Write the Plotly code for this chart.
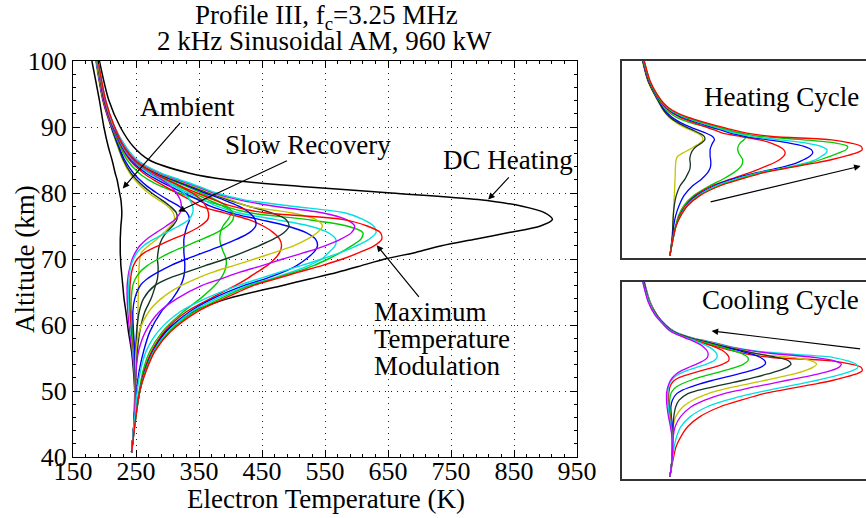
import plotly.graph_objects as go

# ---------------- data ----------------
ALT = [40.7, 44, 47, 50, 53, 56, 59, 62, 64, 66, 67, 68, 69, 70, 71, 72, 73, 74, 75, 76,
       77, 78, 79, 80, 81, 82, 83, 85, 87, 90, 94, 100]

AMBIENT = [243, 246, 248, 248, 246, 243, 238, 234, 231, 229, 228, 227, 226, 225.5, 225, 225, 225, 225.5, 226, 227,
           227.5, 227, 226, 224, 222, 220, 217, 212, 206, 199, 192, 180]
DC_HEATING = [243.5, 246, 250, 256, 263, 276, 297, 340, 396, 483, 527, 570, 608, 645, 694, 735, 788, 842, 892, 911,
              899, 863, 793, 655, 512, 395, 335, 271, 246, 225, 207, 192]

# heating cycle
H1_YELLOW = [243, 246, 248, 249, 250, 251, 252, 253, 253.5, 254, 254, 254.5, 255, 256, 259, 270, 283, 294, 305, 311,
             309, 300, 285, 270, 258, 248, 240, 229, 221, 210, 197, 186]
H2_BLACK = [243, 246, 248, 249, 250, 252, 256, 264, 274, 281, 284, 285, 285, 284, 285, 287, 291, 298, 308, 315,
            314, 304, 290, 275, 262, 251, 242, 230, 222, 211, 198, 187]
H3_BLUE = [243, 246, 249, 251, 255, 262, 272, 290, 308, 321, 325, 327, 327.5, 327, 326, 326, 326, 328, 331, 335,
           331, 318, 300, 283, 268, 256, 246, 232, 223, 211, 198, 187]
H4_GREEN = [243, 246.5, 250, 255, 261, 272, 292, 325, 352, 375, 384, 390, 393, 393, 389, 385, 383, 384, 388, 396,
            401, 388, 352, 318, 290, 270, 255, 236, 225, 212, 199, 188]
H5_RED = [243, 246.5, 250, 256, 263, 275, 295, 330, 368, 408, 426, 442, 458, 470, 478, 481, 478, 468, 452, 428,
          390, 352, 335, 315, 296, 278, 262, 240, 227, 213, 199, 188]
H6_BLUE = [243, 247, 251, 256, 264, 277, 298, 335, 372, 422, 455, 483, 505, 520, 532, 538, 535, 520, 490, 445,
           400, 368, 348, 326, 304, 284, 266, 242, 228, 214, 200, 189]
H7_CYAN = [243, 247, 251, 256, 265, 278, 301, 338, 378, 428, 464, 496, 524, 545, 556, 566, 567, 555, 525, 470,
           412, 378, 356, 333, 310, 289, 270, 244, 229, 215, 201, 189]
H8_GREEN = [243, 247, 251, 256, 265, 279, 303, 343, 384, 432, 467, 502, 532, 555, 575, 592, 607, 610, 585, 520,
            430, 390, 364, 340, 316, 294, 274, 246, 230, 215, 201, 190]
MAX_RED = [243, 247, 251, 256, 266, 280, 305, 347, 390, 437, 472, 508, 545, 578, 605, 628, 640, 638, 617, 577,
           454, 402, 373, 347, 322, 299, 278, 248, 231, 216, 202, 190]

# cooling cycle
C2_CYAN = [243, 246, 249, 252, 257, 266, 285, 320, 360, 413, 445, 478, 512, 545, 575, 600, 620, 631, 627, 610,
           581, 497, 420, 378, 350, 320, 290, 252, 234, 216, 202, 190]
C3_MAGENTA = [243, 246, 248, 249, 250, 254, 265, 287, 315, 355, 385, 415, 450, 483, 518, 550, 575, 592, 597, 583,
              545, 470, 412, 374, 346, 317, 288, 251, 233.5, 216, 201, 190]
C4_YELLOW = [243, 246, 248, 248.5, 249, 250, 255, 270, 290, 322, 345, 372, 405, 438, 470, 500, 522, 538, 546, 535,
             497, 428, 400, 370, 342, 314, 286, 250, 233, 215, 201, 189]
C5_BLACK = [243, 246, 247.5, 248, 249, 249.5, 251, 255, 262, 280, 300, 330, 360, 392, 420, 445, 468, 485, 493, 488,
            465, 428, 395, 366, 338, 311, 284, 249, 232.5, 215, 200, 189]
C6_BLUE = [243, 246, 247.5, 248, 248, 248, 246, 245, 248, 257, 268, 285, 305, 330, 358, 385, 410, 430, 440, 439,
           430, 413, 388, 360, 334, 308, 282, 248, 232, 214, 200, 189]
C7_GREEN = [243, 246, 248, 248.5, 248, 246.5, 244.5, 242.5, 242.5, 245, 249, 256, 268, 285, 305, 330, 355, 378, 395, 404,
            404, 394, 376, 354, 330, 305, 280, 247, 231.5, 214, 200, 188]
C8_RED = [243, 246, 248, 248.5, 248, 246, 243, 241, 240, 240.5, 241.5, 243, 246, 252, 264, 285, 308, 333, 352, 364,
          365, 361, 353, 339, 321, 300, 278, 246, 231, 213, 199, 188]
C9_CYAN = [243, 246, 248, 248, 247.5, 245, 242, 239.5, 238.5, 238.5, 239, 240, 242, 246, 252, 262, 278, 298, 318, 334,
           340, 340, 335, 326, 313, 296, 276, 245, 230.5, 213, 199, 187]
C10_MAGENTA = [243, 246, 248, 248, 247, 244, 240, 237, 236, 236, 237, 238.5, 241, 244, 249, 256, 267, 282, 298, 312,
               320, 322, 320, 314, 305, 291, 274, 244, 230, 212, 198, 187]

X_RANGE = [150, 950]
Y_RANGE = [40, 100]

YEL, BLK, BLU, GRN, RED, CYN, MAG = '#c4c400', '#153526', '#0000ff', '#00cc00', '#ff0000', '#00e0e0', '#c000ff'

HEATING = [(H1_YELLOW, YEL), (H2_BLACK, BLK), (H3_BLUE, BLU), (H4_GREEN, GRN), (H5_RED, RED),
           (H6_BLUE, BLU), (H7_CYAN, CYN), (H8_GREEN, GRN), (MAX_RED, RED)]
COOLING = [(MAX_RED, RED), (C2_CYAN, CYN), (C3_MAGENTA, MAG), (C4_YELLOW, YEL), (C5_BLACK, BLK),
           (C6_BLUE, BLU), (C7_GREEN, GRN), (C8_RED, RED), (C9_CYAN, CYN), (C10_MAGENTA, MAG)]

FONT = 'Liberation Serif, Times New Roman, serif'
W, H = 866, 518


def line(t, color, xa, ya, width=1.4):
    return go.Scatter(x=t, y=ALT, mode='lines', xaxis=xa, yaxis=ya, hoverinfo='skip',
                      line=dict(color=color, width=width, shape='spline', smoothing=0.8))


fig = go.Figure()
# main panel
fig.add_trace(line(AMBIENT, 'black', 'x', 'y', 1.5))
fig.add_trace(line(DC_HEATING, 'black', 'x', 'y', 1.5))
for t, c in HEATING[:-1]:
    fig.add_trace(line(t, c, 'x', 'y'))
for t, c in COOLING[1:][::-1]:
    fig.add_trace(line(t, c, 'x', 'y'))
fig.add_trace(line(MAX_RED, RED, 'x', 'y'))
# insets
for t, c in HEATING:
    fig.add_trace(line(t, c, 'x2', 'y2', 1.3))
for t, c in COOLING:
    fig.add_trace(line(t, c, 'x3', 'y3', 1.3))


def px_x(p):
    return p / W


def px_y(p):
    return 1 - p / H


main_x = dict(domain=[px_x(73), px_x(577)], range=X_RANGE, tickmode='linear', tick0=150, dtick=100,
              ticks='inside', ticklen=7, tickcolor='black', showline=True, linecolor='black', linewidth=1,
              mirror='allticks', showgrid=True, gridcolor='#222', griddash='1px,5px', gridwidth=1,
              zeroline=False, automargin=False, ticklabelstandoff=-9,
              tickfont=dict(family=FONT, size=26, color='black'),
              minor=dict(tick0=150, dtick=20, ticks='inside', ticklen=3, tickcolor='black', showgrid=False))
main_y = dict(domain=[px_y(457), px_y(61)], range=Y_RANGE, tickmode='linear', tick0=40, dtick=10,
              ticks='inside', ticklen=7, tickcolor='black', showline=True, linecolor='black', linewidth=1,
              mirror='allticks', showgrid=True, gridcolor='#222', griddash='1px,5px', gridwidth=1,
              zeroline=False, automargin=False, tickfont=dict(family=FONT, size=26, color='black'),
              minor=dict(tick0=40, dtick=2, ticks='inside', ticklen=3, tickcolor='black', showgrid=False))

inset_common = dict(showticklabels=False, ticks='', showgrid=False, zeroline=False, showline=True,
                    linecolor='#333', linewidth=1.5, automargin=False)

fig.update_layout(
    template='none',
    width=W, height=H, margin=dict(l=0, r=0, t=0, b=0, autoexpand=False),
    paper_bgcolor='white', plot_bgcolor='white', showlegend=False,
    xaxis=main_x, yaxis=main_y,
    xaxis2=dict(domain=[px_x(622), 1.0], range=[144, 648], anchor='y2', mirror=True, **inset_common),
    yaxis2=dict(domain=[px_y(258), px_y(61)], range=Y_RANGE, anchor='x2', mirror=False, **inset_common),
    xaxis3=dict(domain=[px_x(622), 1.0], range=[144, 648], anchor='y3', mirror=True, **inset_common),
    yaxis3=dict(domain=[px_y(479), px_y(282)], range=Y_RANGE, anchor='x3', mirror=False, **inset_common),
)

tf = dict(family=FONT, size=27, color='black')
ann = []
# titles
ann.append(dict(text='Profile III, f<sub>c</sub>=3.25 MHz', xref='paper', yref='paper', x=px_x(326), y=px_y(17),
                showarrow=False, font=tf, xanchor='center', yanchor='middle'))
ann.append(dict(text='2 kHz Sinusoidal AM, 960 kW', xref='paper', yref='paper', x=px_x(324), y=px_y(41),
                showarrow=False, font=tf, xanchor='center', yanchor='middle'))
ann.append(dict(text='Electron Temperature (K)', xref='paper', yref='paper', x=px_x(326), y=px_y(499),
                showarrow=False, font=tf, xanchor='center', yanchor='middle'))
ann.append(dict(text='Altitude (km)', xref='paper', yref='paper', x=px_x(25), y=px_y(259), textangle=-90,
                showarrow=False, font=tf, xanchor='center', yanchor='middle'))
# main labels
ann.append(dict(text='Ambient', xref='x', yref='y', x=332, y=93.0, showarrow=False, font=tf))
ann.append(dict(text='Slow Recovery', xref='x', yref='y', x=523, y=87.3, showarrow=False, font=tf))
ann.append(dict(text='DC Heating', xref='x', yref='y', x=840, y=85.0, showarrow=False, font=tf))
for txt, yy in [('Maximum', 62.0), ('Temperature', 57.9), ('Modulation', 53.8)]:
    ann.append(dict(text=txt, xref='x', yref='y', x=624, y=yy, xanchor='left', showarrow=False, font=tf))
# inset labels
ann.append(dict(text='Heating Cycle', xref='paper', yref='paper', x=px_x(861), y=px_y(80), xanchor='right',
                showarrow=False, font=tf))
ann.append(dict(text='Cooling Cycle', xref='paper', yref='paper', x=px_x(861), y=px_y(300), xanchor='right',
                showarrow=False, font=tf))

arrow = dict(text='', showarrow=True, arrowhead=2, arrowsize=1.1, arrowwidth=1.2, arrowcolor='black')
for (hx, hy, tx, ty, xr, yr) in [(229, 80.7, 322, 90.8, 'x', 'y'),
                                 (317, 77.2, 492, 85.0, 'x', 'y'),
                                 (809, 79.0, 844, 82.6, 'x', 'y'),
                                 (632, 72.1, 701, 64.05, 'x', 'y'),
                                 (637, 68.0, 324, 57.0, 'x2', 'y2'),
                                 (329, 85.1, 639, 79.6, 'x3', 'y3')]:
    a = dict(arrow)
    a.update(x=hx, y=hy, ax=tx, ay=ty, xref=xr, yref=yr, axref=xr, ayref=yr)
    ann.append(a)

fig.update_layout(annotations=ann)
# the page's default 8px body margin would shift the figure; remove it
fig.write_html('out.html', config={'displayModeBar': False},
               post_script="document.body.style.margin='0';")
